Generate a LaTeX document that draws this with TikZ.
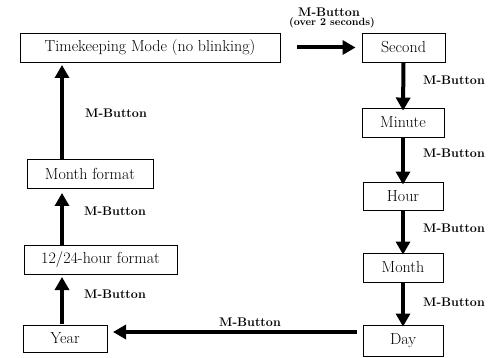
\documentclass[tikz,border=0pt]{standalone}
\usetikzlibrary{arrows.meta}
\begin{document}
\begin{tikzpicture}[x=1pt,y=-1pt,
  box/.style={draw, line width=0.9pt, inner sep=0pt, font=\fontsize{16}{18}\selectfont},
  lab/.style={font=\fontsize{12.5}{14}\selectfont\bfseries, inner sep=0pt},
  arr/.style={line width=4pt, -{Triangle[length=13pt,width=14pt]}}]
\useasboundingbox (0,0) rectangle (495,358);
\node[box, minimum width=260pt, minimum height=29pt] (tk) at (150,47.5) {Timekeeping Mode (no blinking)};
\node[box, minimum width=83pt, minimum height=29pt] (sec) at (403.5,47.5) {Second};
\node[box, minimum width=82pt, minimum height=29pt] (min) at (403,122.5) {Minute};
\node[box, minimum width=80pt, minimum height=28pt] (hour) at (403,196) {Hour};
\node[box, minimum width=80pt, minimum height=29pt] (month) at (403,267.5) {Month};
\node[box, minimum width=80pt, minimum height=31pt] (day) at (403,340.5) {Day};
\node[box, minimum width=84pt, minimum height=27pt] (year) at (65,338.5) {Year};
\node[box, minimum width=153pt, minimum height=29pt] (fmt) at (100.5,259.5) {12/24-hour format};
\node[box, minimum width=126pt, minimum height=29pt] (mfmt) at (90,173.5) {Month format};

\coordinate (a1) at (297,47.5);
\draw[arr] (a1) -- ([xshift=-6pt]sec.west);
\draw[arr] (sec.south) -- ([yshift=-3pt]min.north);
\draw[arr] (min.south) -- ([yshift=-3pt]hour.north);
\draw[arr] (hour.south) -- ([yshift=-2pt]month.north);
\draw[arr] (month.south) -- ([yshift=-2pt]day.north);
\coordinate (d1) at (357,332);
\coordinate (d2) at (113,332);
\draw[arr] (d1) -- (d2);
\coordinate (y1) at (62,324);
\coordinate (y2) at (62,277);
\draw[arr] (y1) -- (y2);
\coordinate (f1) at (62,245);
\coordinate (f2) at (62,193);
\draw[arr] (f1) -- (f2);
\coordinate (m1) at (62,159);
\coordinate (m2) at (62,65);
\draw[arr] (m1) -- (m2);

\node[lab] (l0) at (329,12) {M-Button};
\node[font=\fontsize{10.5}{12}\selectfont\bfseries, inner sep=0pt] (l0b) at (332,23) {(over 2 seconds)};
\node[lab] (l1) at (454,80) {M-Button};
\node[lab] (l2) at (454,153) {M-Button};
\node[lab] (l3) at (454,228) {M-Button};
\node[lab] (l4) at (454,302) {M-Button};
\node[lab] (l5) at (250,322) {M-Button};
\node[lab] (l6) at (116,113) {M-Button};
\node[lab] (l7) at (115,211) {M-Button};
\node[lab] (l8) at (115,294) {M-Button};
\end{tikzpicture}
\end{document}
